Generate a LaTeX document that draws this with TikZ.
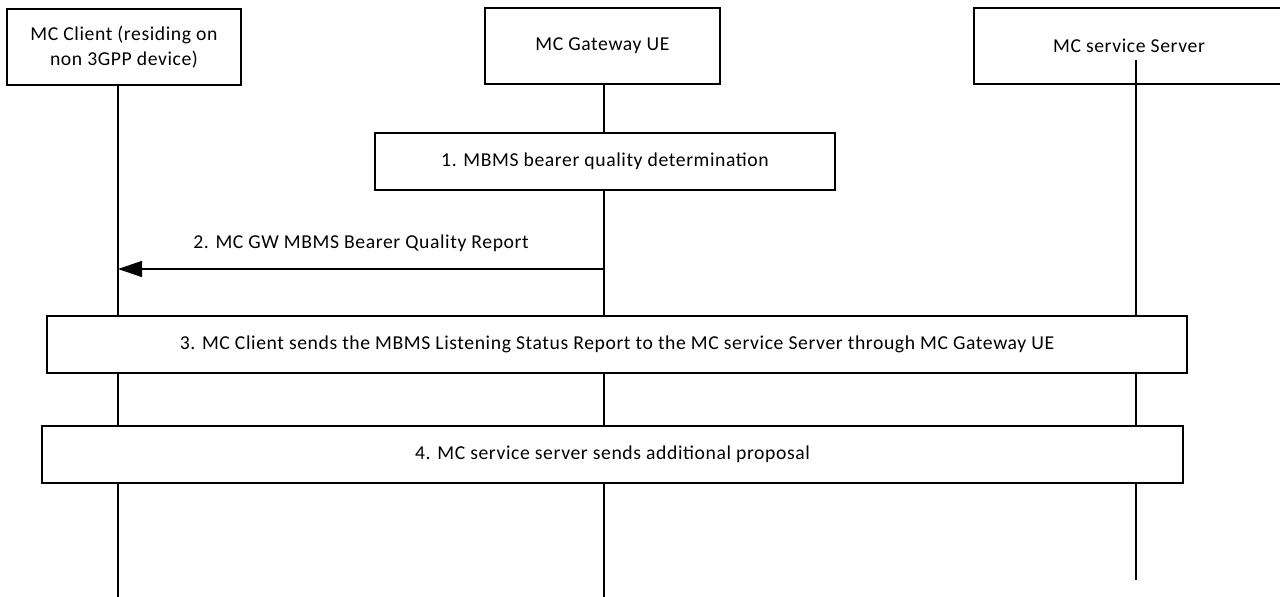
\documentclass[tikz,border=0pt]{standalone}
\usepackage{fontspec}
\setmainfont{Carlito}[LetterSpace=3]
\usetikzlibrary{arrows.meta, backgrounds}
\tikzset{
  entity/.style   = {rectangle, draw=black, fill=white, line width=1pt, minimum height=1.9cm, align=center, font=\fontsize{14}{17.5}\selectfont},
  stepbox/.style  = {rectangle, draw=black, fill=white, line width=1pt, minimum height=1.425cm, align=center, font=\fontsize{14}{17}\selectfont},
  lifeline/.style = {line width=1.4pt, black},
  msg/.style      = {-{Triangle[length=0.6cm, width=0.4cm]}, line width=1pt, black},
}
\begin{document}
\begin{tikzpicture}
\useasboundingbox (0,0) rectangle (32,-14.925);

% ================= Entities =================
\node (client) [entity, minimum width=5.85cm]  at (3.1, -1.175)   {MC Client (residing on\\non 3GPP device)};
\node (gw)     [entity, minimum width=5.875cm] at (15.06, -1.15)  {MC Gateway UE};
\node (srv)    [entity, minimum width=7.75cm]  at (28.225, -1.15) {MC service Server};

% lifeline ends
\coordinate (clientend) at (2.95, -14.925);
\coordinate (gwend)     at (15.1, -14.925);
\coordinate (srvtop)    at (28.4, -1.5);
\coordinate (srvend)    at (28.4, -14.5);

% ================= Steps =================
\node (s1) [stepbox, minimum width=11.5cm]   at (15.125, -4.0375)  {1. MBMS bearer quality determination};
\node (s3) [stepbox, minimum width=28.5cm]   at (15.425, -8.6125)  {3. MC Client sends the MBMS Listening Status Report to the MC service Server through MC Gateway UE};
\node (s4) [stepbox, minimum width=28.525cm] at (15.3125, -11.3625) {4. MC service server sends additional proposal};

% ================= Lifelines =================
\begin{scope}[on background layer]
  \draw [lifeline] (client.south -| clientend) -- (clientend);
  \draw [lifeline] (gw.south -| gwend) -- (gwend);
  \draw [lifeline] (srv.south -| srvend) -- (srvend);
\end{scope}
\draw [lifeline] (srvtop) -- (srv.south -| srvtop);

% ================= Messages =================
\coordinate (m2) at (15.1, -6.725);
\draw [msg] (m2) -- (m2 -| clientend) node[pos=0.5, above=0.3cm, font=\fontsize{14}{17}\selectfont] {2. MC GW MBMS Bearer Quality Report};

\end{tikzpicture}
\end{document}
